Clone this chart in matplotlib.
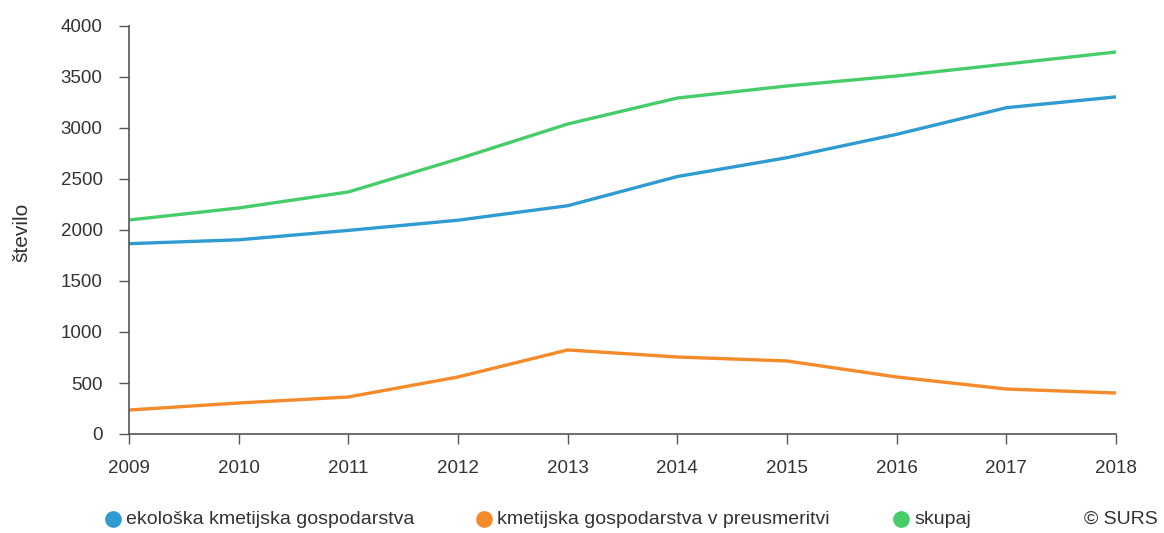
import numpy as np
from matplotlib import pyplot as plt
from matplotlib.lines import Line2D

plt.rcParams['font.family'] = ['Liberation Sans', 'DejaVu Sans']

years = [2009, 2010, 2011, 2012, 2013, 2014, 2015, 2016, 2017, 2018]
ekoloska = [1866, 1904, 1996, 2096, 2238, 2524, 2709, 2938, 3199, 3305]
preusmeritev = [235, 304, 363, 559, 824, 755, 716, 559, 441, 402]
skupaj = [2098, 2216, 2373, 2696, 3039, 3294, 3412, 3510, 3627, 3745]

labels = ['ekološka kmetijska gospodarstva', 'kmetijska gospodarstva v preusmeritvi', 'skupaj']
colors = ['#2f9bd1', '#f58a2a', '#47cc6a']
text_col = '#333333'

W, H = 1164, 533
fig = plt.figure(figsize=(W / 100, H / 100), dpi=100)
ax = fig.add_axes([129 / W, 1 - 434 / H, (1116 - 129) / W, (434 - 26) / H])

for vals, col in zip([ekoloska, preusmeritev, skupaj], colors):
    ax.plot(years, vals, color=col, lw=2.4, solid_capstyle='butt')

ax.set_xlim(2009, 2018)
ax.set_ylim(0, 4000)
ax.set_xticks(years)
ax.set_yticks(np.arange(0, 4001, 500))
for s in ['top', 'right']:
    ax.spines[s].set_visible(False)
for s in ['left', 'bottom']:
    ax.spines[s].set_color('#555555')
    ax.spines[s].set_linewidth(1.2)
ax.tick_params(colors='#555555', labelcolor=text_col, labelsize=13.5, length=7, width=1)
ax.tick_params(axis='x', pad=12)
ax.tick_params(axis='y', pad=12)
ax.set_ylabel('število', fontsize=15, color=text_col, va='center')
ax.yaxis.set_label_coords(22 / W, 1 - 232 / H, transform=fig.transFigure)

# legend, placed by hand below the plot
legend_x = [113, 484, 901]
leg_y = 1 - 519 / H
for x, lab, col in zip(legend_x, labels, colors):
    fig.add_artist(Line2D([x / W], [leg_y], transform=fig.transFigure, ls='',
                          marker='o', ms=11, color=col))
    fig.text((x + 13) / W, leg_y, lab, ha='left', va='center', fontsize=14, color=text_col)
fig.text(1158 / W, leg_y, '© SURS', ha='right', va='center', fontsize=14, color=text_col)

fig.savefig('out.png', dpi=100)
